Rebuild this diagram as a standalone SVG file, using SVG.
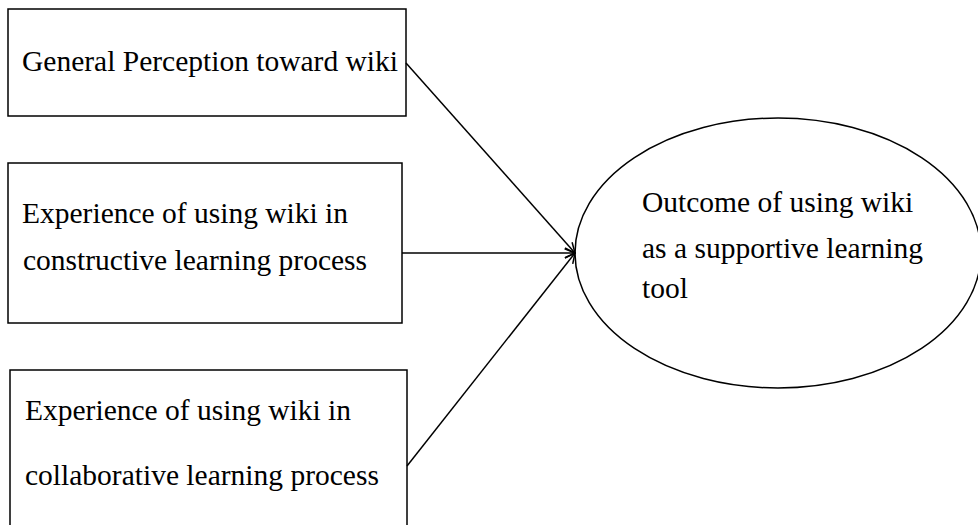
<svg xmlns="http://www.w3.org/2000/svg" width="978" height="525" viewBox="0 0 978 525">
<style>
.box{fill:#fff;stroke:#000;stroke-width:1.5}
.t{font-family:"Liberation Serif","Times New Roman",serif;font-size:29.5px;fill:#000}
.c{fill:none;stroke:#000;stroke-width:1.5}
</style>
<defs>
<marker id="arr" viewBox="0 0 12 12" refX="11" refY="6" markerWidth="12" markerHeight="12" markerUnits="userSpaceOnUse" orient="auto">
<path d="M1,1 L11,6 L1,11" fill="none" stroke="#000" stroke-width="1.5"/>
</marker>
</defs>
<rect width="978" height="525" fill="#fff"/>
<g id="n1">
<rect class="box" x="8" y="9" width="398" height="107"/>
<text class="t" x="22" y="71">General Perception toward wiki</text>
</g>
<g id="n2">
<rect class="box" x="8" y="163" width="394" height="160"/>
<text class="t" x="22" y="223">Experience of using wiki in</text>
<text class="t" x="23" y="270">constructive learning process</text>
</g>
<g id="n3">
<rect class="box" x="10" y="370" width="397" height="175"/>
<text class="t" x="25" y="420">Experience of using wiki in</text>
<text class="t" x="25" y="485">collaborative learning process</text>
</g>
<g id="n4">
<ellipse class="box" cx="778" cy="253" rx="203" ry="135"/>
<text class="t" x="642" y="212">Outcome of using wiki</text>
<text class="t" x="642" y="258">as a supportive learning</text>
<text class="t" x="642" y="298">tool</text>
</g>
<g id="connectors">
<line class="c" x1="406" y1="63" x2="575" y2="253" marker-end="url(#arr)"/>
<line class="c" x1="402" y1="253" x2="575" y2="253" marker-end="url(#arr)"/>
<line class="c" x1="407" y1="466" x2="575" y2="253" marker-end="url(#arr)"/>
</g>
</svg>
